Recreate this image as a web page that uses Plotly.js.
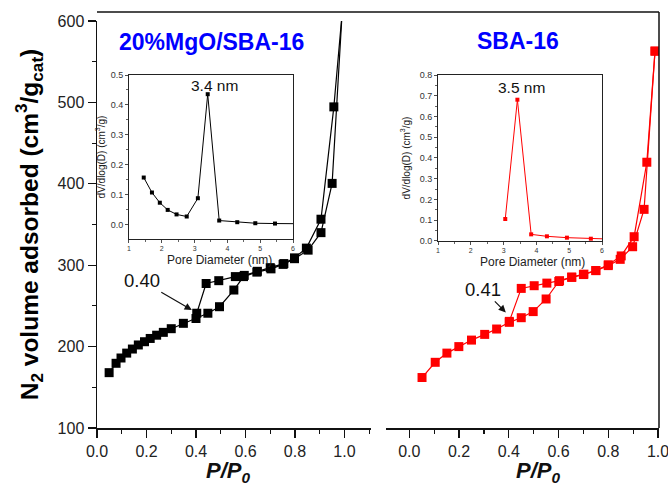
<!DOCTYPE html>
<html>
<head>
<meta charset="utf-8">
<script src="https://cdn.plot.ly/plotly-3.0.1.min.js"></script>
<style>html,body{margin:0;padding:0;background:#fff;}#chart{width:668px;height:489px;}</style>
</head>
<body>
<div id="chart"></div>
<script>
// ---- Data ----
// 20%MgO/SBA-16 isotherm (black)
const mgoAdsP = [0.049, 0.077, 0.097, 0.120, 0.143, 0.167, 0.192, 0.215, 0.241, 0.268, 0.300, 0.349, 0.400, 0.448, 0.495, 0.553, 0.592, 0.646, 0.703, 0.752, 0.798, 0.853, 0.905, 0.950, 0.990];
const mgoAdsV = [168, 179.5, 186, 192, 197, 202, 206, 210, 214, 217.5, 222, 228.6, 234.5, 241, 249, 269.5, 286, 291.5, 295.5, 301, 308, 318.5, 340, 400.5, 608];
const mgoDesP = [0.990, 0.957, 0.905, 0.846, 0.798, 0.755, 0.700, 0.648, 0.595, 0.559, 0.492, 0.441, 0.403];
const mgoDesV = [608, 494.5, 356.5, 321, 309, 302, 297, 292.5, 287.5, 286, 281, 277.5, 241];
// SBA-16 isotherm (red)
const sbaAdsP = [0.051, 0.104, 0.151, 0.199, 0.250, 0.303, 0.351, 0.402, 0.450, 0.498, 0.550, 0.601, 0.653, 0.700, 0.750, 0.800, 0.848, 0.898, 0.944, 0.988];
const sbaAdsV = [162, 180.7, 192, 200, 208, 215, 221.6, 229.8, 235.5, 243, 258.5, 280, 285, 288.5, 293.3, 299.5, 307.2, 322.7, 368.6, 563];
const sbaDesP = [0.988, 0.955, 0.904, 0.852, 0.800, 0.750, 0.702, 0.653, 0.604, 0.553, 0.502, 0.450, 0.402];
const sbaDesV = [563, 426.5, 335, 311.4, 300.5, 293.5, 289, 285.5, 281, 278, 274.8, 271.5, 231];
// Pore size distributions (insets)
const mgoPoreD = [1.45, 1.70, 1.94, 2.18, 2.45, 2.76, 3.10, 3.40, 3.75, 4.30, 4.85, 5.45, 6.10];
const mgoPoreV = [0.158, 0.108, 0.074, 0.050, 0.035, 0.028, 0.089, 0.436, 0.0145, 0.009, 0.0056, 0.0045, 0.004];
const sbaPoreD = [3.05, 3.42, 3.84, 4.32, 4.93, 5.66, 6.10];
const sbaPoreV = [0.106, 0.681, 0.032, 0.0225, 0.016, 0.011, 0.010];
// Labels
const panelLabels = ["20%MgO/SBA-16", "SBA-16"];
const peakLabels = ["3.4 nm", "3.5 nm"];
const closureLabels = ["0.40", "0.41"];
const closureP = [0.383, 0.388];
const closureV = [245, 242];
const xTitle = '<b><i>P/P</i><sub><i>0</i></sub></b>';
const insetXTitle = 'Pore Diameter (nm)';

const FONT = "Arial, 'Liberation Sans', Helvetica, sans-serif";
const BLACK = "#000000";
const RED = "#ff0000";

function iso(x, y, color, xa) {
  return {x: x, y: y, xaxis: xa, yaxis: 'y', type: 'scatter', mode: 'lines+markers',
    line: {color: color, width: 1.2}, marker: {symbol: 'square', size: 9, color: color},
    cliponaxis: true, showlegend: false, hoverinfo: 'x+y'};
}
function psd(x, y, color, xa, ya) {
  return {x: x, y: y, xaxis: xa, yaxis: ya, type: 'scatter', mode: 'lines+markers',
    line: {color: color, width: 1}, marker: {symbol: 'square', size: 4, color: color},
    cliponaxis: true, showlegend: false};
}

const data = [
  iso(mgoAdsP, mgoAdsV, BLACK, 'x'),
  iso(mgoDesP, mgoDesV, BLACK, 'x'),
  iso(sbaAdsP, sbaAdsV, RED, 'x2'),
  iso(sbaDesP, sbaDesV, RED, 'x2'),
  psd(mgoPoreD, mgoPoreV, BLACK, 'x3', 'y3'),
  psd(sbaPoreD, sbaPoreV, RED, 'x4', 'y4')
];

const mainX = {
  showline: true, linecolor: '#111', linewidth: 1.5, ticks: 'outside', ticklen: 8, tickwidth: 1.3,
  tickcolor: '#111', dtick: 0.2, tick0: 0, tickformat: '.1f', showgrid: false, zeroline: false,
  ticklabeloverflow: 'allow',
  tickfont: {family: FONT, size: 16, color: '#222'},
  minor: {dtick: 0.1, ticks: 'outside', ticklen: 4, tickwidth: 1.2, tickcolor: '#111', showgrid: false},
  anchor: 'y'
};

const insetX = {
  showline: true, mirror: true, linecolor: '#222', linewidth: 1, ticks: 'outside', ticklen: 3, tickwidth: 0.8,
  tickcolor: '#222', range: [1, 6], dtick: 1, showgrid: false, zeroline: false,
  tickfont: {family: FONT, size: 7, color: '#333'},
  minor: {dtick: 0.5, ticks: 'outside', ticklen: 2, tickwidth: 0.7, tickcolor: '#222', showgrid: false}
};
const insetY = {
  showline: true, mirror: true, linecolor: '#222', linewidth: 1, ticks: 'outside', ticklen: 3, tickwidth: 0.8,
  tickcolor: '#222', dtick: 0.1, tick0: 0, tickformat: '.1f', showgrid: false, zeroline: false,
  tickfont: {family: FONT, size: 9, color: '#333'},
  minor: {dtick: 0.05, ticks: 'outside', ticklen: 2, tickwidth: 0.7, tickcolor: '#222', showgrid: false},
  title: {text: 'dV/dlog(D) (cm<sup>3</sup>/g)', font: {family: FONT, size: 10, color: '#222'}, standoff: 3}
};

const topY = (428 - 12) / 407;

function note(x, y, text, size, color) {
  return {xref: 'paper', yref: 'paper', x: x, y: y, xanchor: 'center', yanchor: 'middle',
    text: text, showarrow: false, font: {family: FONT, size: size, color: color}};
}

const layout = {
  width: 668, height: 489,
  margin: {l: 97, r: 9, t: 21, b: 61},
  paper_bgcolor: '#fff', plot_bgcolor: 'rgba(0,0,0,0)',
  font: {family: FONT, color: '#111'},
  showlegend: false,
  xaxis: Object.assign({}, mainX, {domain: [0, 0.4875], range: [0, 1.107]}),
  xaxis2: Object.assign({}, mainX, {domain: [0.5142, 1], range: [-0.094, 1.004]}),
  yaxis: {
    domain: [0, 1], range: [100, 600], anchor: 'x',
    showline: true, linecolor: '#111', linewidth: 1.5, ticks: 'outside', ticklen: 8, tickwidth: 1.3,
    tickcolor: '#111', dtick: 100, showgrid: false, zeroline: false,
    tickfont: {family: FONT, size: 16, color: '#222'},
    minor: {dtick: 50, ticks: 'outside', ticklen: 4, tickwidth: 1.2, tickcolor: '#111', showgrid: false},
    title: {text: '<b>N<sub>2</sub> volume adsorbed (cm<sup>3</sup>/g<sub>cat</sub>)</b>', font: {family: FONT, size: 24.5, color: '#000'}, standoff: 12}
  },
  xaxis3: Object.assign({}, insetX, {domain: [0.0569, 0.3488], anchor: 'y3'}),
  yaxis3: Object.assign({}, insetY, {domain: [0.4644, 0.8673], range: [-0.047, 0.5], anchor: 'x3'}),
  xaxis4: Object.assign({}, insetX, {domain: [0.6068, 0.8986], anchor: 'y4'}),
  yaxis4: Object.assign({}, insetY, {domain: [0.4595, 0.8673], range: [0, 0.8], anchor: 'x4',
    title: {text: 'dV/dlog(D) (cm<sup>3</sup>/g)', font: {family: FONT, size: 10, color: '#222'}, standoff: 7}}),
  shapes: [
    {type: 'line', xref: 'paper', yref: 'paper', x0: 0, x1: 1, y0: topY, y1: topY, line: {color: '#111', width: 1.5}},
    {type: 'line', xref: 'paper', yref: 'paper', x0: 1, x1: 1, y0: 0, y1: topY, line: {color: '#111', width: 1.5}}
  ],
  annotations: [
    note(0.2038, 0.9484, '<b>' + panelLabels[0] + '</b>', 23, '#0000ff'),
    note(0.7491, 0.9509, '<b>' + panelLabels[1] + '</b>', 23, '#0000ff'),
    note(0.2082, 0.8403, peakLabels[0], 15.5, '#111'),
    note(0.7562, 0.8354, peakLabels[1], 15.5, '#111'),
    note(0.2331, -0.1081, xTitle, 22, '#111'),
    note(0.7847, -0.1081, xTitle, 22, '#111'),
    note(0.2171, (428 - 259.5) / 407, insetXTitle, 12, '#222'),
    note(0.7758, (428 - 261.5) / 407, insetXTitle, 12, '#222'),
    {xref: 'x', yref: 'y', x: closureP[0], y: closureV[0], text: closureLabels[0], showarrow: true,
     ax: -50, ay: -29, arrowhead: 2, arrowsize: 1.2, arrowwidth: 1.2, arrowcolor: '#111', standoff: 0,
     font: {family: FONT, size: 18.5, color: '#111'}},
    {xref: 'x2', yref: 'y', x: closureP[1], y: closureV[1], text: closureLabels[1], showarrow: true,
     ax: -23, ay: -23, arrowhead: 2, arrowsize: 1.2, arrowwidth: 1.2, arrowcolor: '#111', standoff: 0,
     font: {family: FONT, size: 18.5, color: '#111'}}
  ]
};

Plotly.newPlot('chart', data, layout, {displayModeBar: false, staticPlot: true});
</script>
</body>
</html>
